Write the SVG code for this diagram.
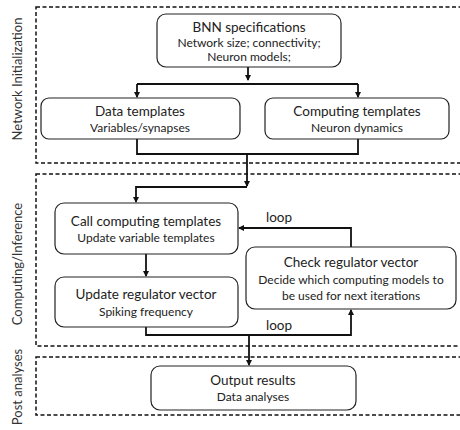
<svg xmlns="http://www.w3.org/2000/svg" width="460" height="430" viewBox="0 0 460 430">
<style>
.sec{fill:none;stroke:#111;stroke-width:1.5;stroke-dasharray:4,2.5}
.box{fill:#fff;stroke:#222;stroke-width:1.2}
.ln{fill:none;stroke:#111;stroke-width:1.8}
.t{font-family:Lato,"Liberation Sans",sans-serif;font-size:13.5px;fill:#222;text-anchor:middle}
.s{font-family:Lato,"Liberation Sans",sans-serif;font-size:12px;fill:#222;text-anchor:middle}
.lab{font-family:Lato,"Liberation Sans",sans-serif;font-size:13px;fill:#333;text-anchor:middle}
</style>
<defs>
<marker id="ah" markerWidth="6" markerHeight="6" refX="5" refY="3" orient="auto" markerUnits="userSpaceOnUse">
<path d="M0,0 L6,3 L0,6 z" fill="#111"/>
</marker>
</defs>
<g id="sections">
<rect class="sec" x="36" y="7" width="440" height="156"/>
<rect class="sec" x="36" y="174" width="440" height="172"/>
<rect class="sec" x="36" y="357" width="440" height="58"/>
<text class="lab" transform="translate(22,79) rotate(-90)">Network Initialization</text>
<text class="lab" transform="translate(22,264) rotate(-90)">Computing/Inference</text>
<text class="lab" transform="translate(22,387) rotate(-90)">Post analyses</text>
</g>
<g id="connectors">
<path class="ln" d="M248,67 V80" marker-end="url(#ah)"/>
<path class="ln" d="M137,84 H358"/>
<path class="ln" d="M137,84 V97" marker-end="url(#ah)"/>
<path class="ln" d="M358,84 V97" marker-end="url(#ah)"/>
<path class="ln" d="M137,139 V154 H358 V139"/>
<path class="ln" d="M247,154 V186" marker-end="url(#ah)"/>
<path class="ln" d="M247,187 H136 V202" marker-end="url(#ah)"/>
<path class="ln" d="M146,254 V276" marker-end="url(#ah)"/>
<path class="ln" d="M351,247 V228 H239" marker-end="url(#ah)"/>
<path class="ln" d="M146,327 V335 H351 V310" marker-end="url(#ah)"/>
<path class="ln" d="M249,335 V365" marker-end="url(#ah)"/>
<text class="t" x="279" y="222">loop</text>
<text class="t" x="279" y="330">loop</text>
</g>
<g id="bnn">
<rect class="box" x="157" y="14" width="184" height="53" rx="9"/>
<text class="t" x="249" y="32">BNN specifications</text>
<text class="s" x="249" y="47">Network size; connectivity;</text>
<text class="s" x="249" y="61">Neuron models;</text>
</g>
<g id="data">
<rect class="box" x="41" y="98" width="199" height="41" rx="8"/>
<text class="t" x="140" y="116">Data templates</text>
<text class="s" x="140" y="132">Variables/synapses</text>
</g>
<g id="computing">
<rect class="box" x="265" y="98" width="184" height="41" rx="8"/>
<text class="t" x="357" y="116">Computing templates</text>
<text class="s" x="357" y="132">Neuron dynamics</text>
</g>
<g id="call">
<rect class="box" x="55" y="203" width="183" height="51" rx="9"/>
<text class="t" x="146" y="226">Call computing templates</text>
<text class="s" x="146" y="242">Update variable templates</text>
</g>
<g id="update">
<rect class="box" x="55" y="277" width="183" height="50" rx="9"/>
<text class="t" x="146" y="299">Update regulator vector</text>
<text class="s" x="146" y="316">Spiking frequency</text>
</g>
<g id="check">
<rect class="box" x="246" y="247" width="210" height="62" rx="9"/>
<text class="t" x="351" y="267">Check regulator vector</text>
<text class="s" x="351" y="284">Decide which computing models to</text>
<text class="s" x="351" y="300">be used for next iterations</text>
</g>
<g id="output">
<rect class="box" x="151" y="366" width="205" height="44" rx="9"/>
<text class="t" x="253" y="385">Output results</text>
<text class="s" x="253" y="401">Data analyses</text>
</g>
</svg>
